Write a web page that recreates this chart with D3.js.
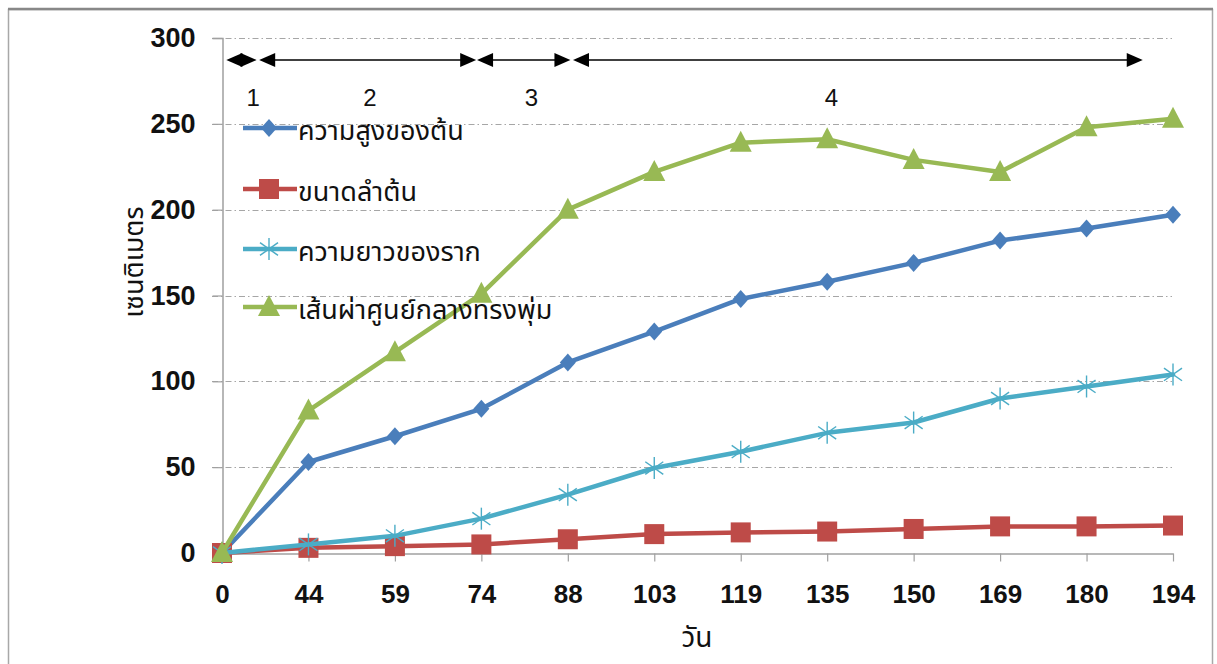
<!DOCTYPE html>
<html>
<head>
<meta charset="utf-8">
<script src="https://cdn.jsdelivr.net/npm/d3@7"></script>
<style>
  html, body { margin: 0; padding: 0; background: #fff; }
  svg { display: block; }
</style>
</head>
<body>
<svg id="chart" width="1217" height="664"></svg>
<script>
// Sampling days (x categories)
const days = ["0", "44", "59", "74", "88", "103", "119", "135", "150", "169", "180", "194"];
// Plant height (cm)
const plantHeight = [0, 53, 68, 84, 111, 129, 148, 158, 169, 182, 189, 197];
// Stem size (cm)
const stemSize = [0, 3, 4, 5, 8, 11, 12, 12.5, 14, 15.5, 15.5, 16];
// Root length (cm)
const rootLength = [0, 5, 10, 20, 34, 49.5, 59, 70, 76, 90, 97, 104];
// Canopy diameter (cm)
const canopyDiameter = [0, 83, 117, 151, 200, 222, 239, 241, 229, 222, 248, 253];
// Y tick values
const yTicks = [0, 50, 100, 150, 200, 250, 300];
// Growth phases, as positions along the category index
const phaseNames = ["1", "2", "3", "4"];
const phaseStart = [0.05, 0.43, 2.95, 4.06];
const phaseEnd = [0.40, 2.94, 4.03, 10.65];
const phaseLabelAt = [0.36, 1.71, 3.58, 7.05];

const series = [
  { name: "ความสูงของต้น", values: plantHeight, color: "#4a7ebb", marker: "diamond" },
  { name: "ขนาดลำต้น", values: stemSize, color: "#be4b48", marker: "square" },
  { name: "ความยาวของราก", values: rootLength, color: "#4bacc6", marker: "star" },
  { name: "เส้นผ่าศูนย์กลางทรงพุ่ม", values: canopyDiameter, color: "#98b954", marker: "triangle" }
];

const svg = d3.select("#chart");
const numFont = "'Liberation Sans', Arial, sans-serif";
const thaiFont = "'Noto Sans', 'Noto Sans Thai', 'Tahoma', sans-serif";

// Outer frame
svg.append("rect").attr("x", 8.5).attr("y", 9.5).attr("width", 1204).attr("height", 660)
  .attr("fill", "none").attr("stroke", "#a8a8a8").attr("stroke-width", 1.5);
svg.append("line").attr("x1", 8).attr("x2", 1213).attr("y1", 9).attr("y2", 9)
  .attr("stroke", "#888").attr("stroke-width", 2.5);

const x = d3.scalePoint().domain(days).range([222, 1173]);
const xi = d3.scaleLinear().domain([0, days.length - 1]).range([222, 1173]);
const y = d3.scaleLinear().domain([0, 300]).range([553, 38]);

// Horizontal gridlines (dash-dot)
svg.append("g").selectAll("line").data(yTicks.filter(v => v > 0)).join("line")
  .attr("x1", 212).attr("x2", 1172)
  .attr("y1", d => Math.round(y(d)) + 0.5).attr("y2", d => Math.round(y(d)) + 0.5)
  .attr("stroke", "#a6a6a6").attr("stroke-width", 1)
  .attr("stroke-dasharray", "6,3,1.5,3");

// Y axis
const yAxis = d3.axisLeft(y).tickValues(yTicks).tickSize(10).tickPadding(17).tickFormat(d3.format("d"));
const gy = svg.append("g").attr("transform", "translate(222.5,0)").call(yAxis);
gy.select(".domain").attr("stroke", "#a0a0a0").attr("stroke-width", 1.5);
gy.selectAll(".tick line").attr("stroke", "#a0a0a0").attr("stroke-width", 1.2);
gy.selectAll(".tick text").attr("font-family", numFont).attr("font-weight", "bold")
  .attr("font-size", 27).attr("fill", "#111");

// X axis
const xAxis = d3.axisBottom(x).tickSize(8).tickSizeOuter(0).tickPadding(23);
const gx = svg.append("g").attr("transform", "translate(0,553.5)").call(xAxis);
gx.select(".domain").attr("stroke", "#a0a0a0").attr("stroke-width", 1.5);
gx.selectAll(".tick line").attr("stroke", "#a0a0a0").attr("stroke-width", 1.2);
gx.selectAll(".tick text").attr("font-family", numFont).attr("font-weight", "bold")
  .attr("font-size", 26).attr("fill", "#111");

// Axis titles
svg.append("text").attr("x", 697).attr("y", 647).attr("text-anchor", "middle")
  .attr("font-family", thaiFont).attr("font-size", 28).attr("fill", "#111").text("วัน");
svg.append("text").attr("transform", "translate(143,262) rotate(-90)").attr("text-anchor", "middle")
  .attr("font-family", thaiFont).attr("font-size", 27).attr("fill", "#111").text("เซนติเมตร");

// Marker shapes
function drawMarker(g, type, color) {
  if (type === "diamond") {
    g.append("path").attr("d", "M0,-9 L8,0 L0,9 L-8,0 Z").attr("fill", color);
  } else if (type === "square") {
    g.append("rect").attr("x", -10).attr("y", -10).attr("width", 20).attr("height", 20).attr("fill", color);
  } else if (type === "triangle") {
    g.append("path").attr("d", "M0,-12 L11,9 L-11,9 Z").attr("fill", color);
  } else if (type === "star") {
    const r = 11;
    [0, 55, 125].forEach(a => {
      const rad = a * Math.PI / 180;
      g.append("line")
        .attr("x1", -r * Math.sin(rad)).attr("y1", -r * Math.cos(rad))
        .attr("x2", r * Math.sin(rad)).attr("y2", r * Math.cos(rad))
        .attr("stroke", color).attr("stroke-width", 1.4);
    });
  }
}

const line = d3.line().x((d, i) => x(days[i])).y(d => y(d));

series.forEach(s => {
  const g = svg.append("g");
  g.append("path").datum(s.values).attr("d", line)
    .attr("fill", "none").attr("stroke", s.color).attr("stroke-width", 4.5)
    .attr("stroke-linejoin", "round").attr("stroke-linecap", "round");
  s.values.forEach((v, i) => {
    const m = g.append("g").attr("transform", `translate(${x(days[i])},${y(v)})`);
    drawMarker(m, s.marker, s.color);
  });
});

// Legend
const legend = svg.append("g");
const legendY = [128, 189, 249, 307];
series.forEach((s, i) => {
  const row = legend.append("g").attr("transform", `translate(0,${legendY[i]})`);
  row.append("line").attr("x1", 243).attr("x2", 297).attr("y1", 0).attr("y2", 0)
    .attr("stroke", s.color).attr("stroke-width", 4.5);
  const m = row.append("g").attr("transform", "translate(269,0)");
  drawMarker(m, s.marker, s.color);
  row.append("text").attr("x", 298).attr("y", 12).attr("font-family", thaiFont)
    .attr("font-size", 27).attr("fill", "#111").text(s.name);
});

// Growth phase arrows
const arrowY = 60;
const phases = svg.append("g");
function head(xTip, dir) {
  // dir = -1 points left, +1 points right
  const len = 16, half = 7;
  phases.append("path")
    .attr("d", `M${xTip},${arrowY} L${xTip - dir * len},${arrowY - half} L${xTip - dir * len},${arrowY + half} Z`)
    .attr("fill", "#000");
}
phaseNames.forEach((name, i) => {
  const x0 = xi(phaseStart[i]), x1 = xi(phaseEnd[i]);
  phases.append("line").attr("x1", x0 + 4).attr("x2", x1 - 4).attr("y1", arrowY).attr("y2", arrowY)
    .attr("stroke", "#000").attr("stroke-width", 1.6);
  head(x0, -1);
  head(x1, 1);
  phases.append("text").attr("x", xi(phaseLabelAt[i])).attr("y", 106).attr("text-anchor", "middle")
    .attr("font-family", numFont).attr("font-size", 24).attr("fill", "#111").text(name);
});
</script>
</body>
</html>
